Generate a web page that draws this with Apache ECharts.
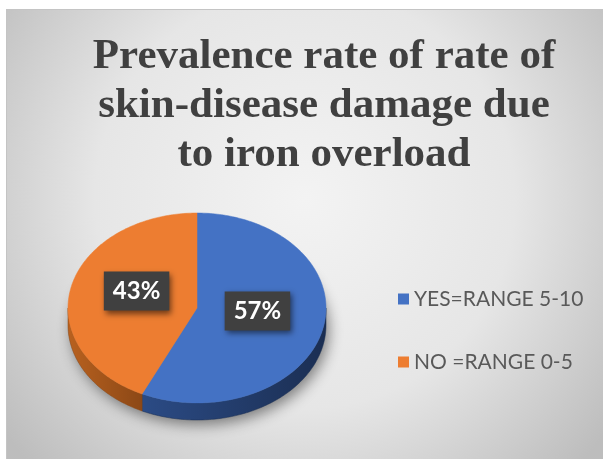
<!DOCTYPE html>
<html>
<head>
<meta charset="utf-8">
<script src="https://cdn.jsdelivr.net/npm/echarts@6/dist/echarts.min.js"></script>
<style>
    html, body { margin: 0; padding: 0; background: #fff; }
    #chart {
        position: absolute; left: 6px; top: 9px; width: 597px; height: 450px;
        border-top: 1px solid #c4c4c4; border-left: 1px solid #c4c4c4; box-sizing: border-box;
    }
</style>
</head>
<body>
<div id="chart"></div>
<script>
// data
var categories = ['YES=RANGE 5-10', 'NO =RANGE 0-5'];
var values = [57, 43];
var titleText = 'Prevalence rate of rate of\nskin-disease damage due\nto iron overload';

// colours
var topColors = ['#4472c4', '#ed7d31'];
var sideColors = [['#2b4b85', '#1b2e52'], ['#b8611f', '#8c4816']];

// 3d pie layout (px inside the chart box)
var cx = 190, cy = 298, rx = 129, ry = 95, depth = 17;

var total = values.reduce(function (a, b) { return a + b; }, 0);

function pt(theta, dy) {
    var a = theta * Math.PI / 180;
    return [cx + rx * Math.sin(a), cy - ry * Math.cos(a) + (dy || 0)];
}

function arc(from, to, dy) {
    var pts = [];
    var n = Math.max(2, Math.ceil(Math.abs(to - from)));
    for (var i = 0; i <= n; i++) {
        pts.push(pt(from + (to - from) * i / n, dy));
    }
    return pts;
}

function buildSlice(idx) {
    var before = 0;
    for (var i = 0; i < idx; i++) before += values[i];
    var start = before / total * 360;
    var end = (before + values[idx]) / total * 360;
    var children = [];

    if (idx === 0) {
        // soft shadow under the whole pie
        children.push({
            type: 'ellipse',
            shape: { cx: cx, cy: cy + depth, rx: rx, ry: ry },
            style: { fill: '#999', shadowBlur: 14, shadowColor: 'rgba(0,0,0,0.45)', shadowOffsetY: 5, shadowOffsetX: 3 },
            z2: 0
        });
    }

    // side wall (front half only)
    var s = Math.max(start, 90), e = Math.min(end, 270);
    if (s < e) {
        var wall = arc(s, e, 0).concat(arc(e, s, depth));
        children.push({
            type: 'polygon',
            shape: { points: wall },
            style: {
                fill: new echarts.graphic.LinearGradient(0, 0, 1, 0, [
                    { offset: 0, color: sideColors[idx][0] },
                    { offset: 1, color: sideColors[idx][1] }
                ]),
                stroke: sideColors[idx][1], lineWidth: 0.5
            },
            z2: 1
        });
    }

    // top face
    var face = [[cx, cy]].concat(arc(start, end, 0));
    children.push({
        type: 'polygon',
        shape: { points: face },
        style: { fill: topColors[idx], stroke: topColors[idx], lineWidth: 0.5 },
        z2: 2
    });

    // data label
    var mid = (start + end) / 2 * Math.PI / 180;
    var lx = cx + rx * 0.48 * Math.sin(mid);
    var ly = cy - ry * 0.48 * Math.cos(mid) - 7;
    children.push({
        type: 'text',
        x: lx, y: ly,
        style: {
            text: Math.round(values[idx] / total * 100) + '%',
            fill: '#fff',
            font: 'bold 24px Lato',
            align: 'center',
            verticalAlign: 'middle',
            backgroundColor: '#404040',
            padding: [8, 9, 7, 9],
            shadowBlur: 6,
            shadowColor: 'rgba(0,0,0,0.55)',
            shadowOffsetX: 2,
            shadowOffsetY: 3
        },
        z2: 3
    });

    return { type: 'group', children: children };
}

var myChart = echarts.init(document.getElementById('chart'));

var option = {
    animation: false,
    backgroundColor: {
        type: 'radial', x: 0.5, y: 0.42, r: 0.85,
        colorStops: [
            { offset: 0, color: '#f3f3f3' },
            { offset: 0.55, color: '#e6e6e6' },
            { offset: 1, color: '#bdbdbd' }
        ]
    },
    title: {
        text: titleText,
        left: 317,
        top: 22,
        textAlign: 'center',
        padding: 0,
        textStyle: {
            fontFamily: 'Liberation Serif',
            fontWeight: 'bold',
            fontSize: 43,
            lineHeight: 49,
            color: '#404040'
        }
    },
    legend: {
        orient: 'vertical',
        left: 386,
        top: 272,
        icon: 'rect',
        itemWidth: 11,
        itemHeight: 11,
        itemGap: 39,
        textStyle: { fontFamily: 'Lato', fontSize: 21, lineHeight: 24, color: '#595959' },
        data: categories
    },
    series: categories.map(function (name, idx) {
        return {
            type: 'custom',
            name: name,
            coordinateSystem: 'none',
            silent: true,
            itemStyle: { color: topColors[idx] },
            data: [values[idx]],
            renderItem: function (params, api) {
                return buildSlice(idx);
            }
        };
    })
};

myChart.setOption(option);
</script>
</body>
</html>
